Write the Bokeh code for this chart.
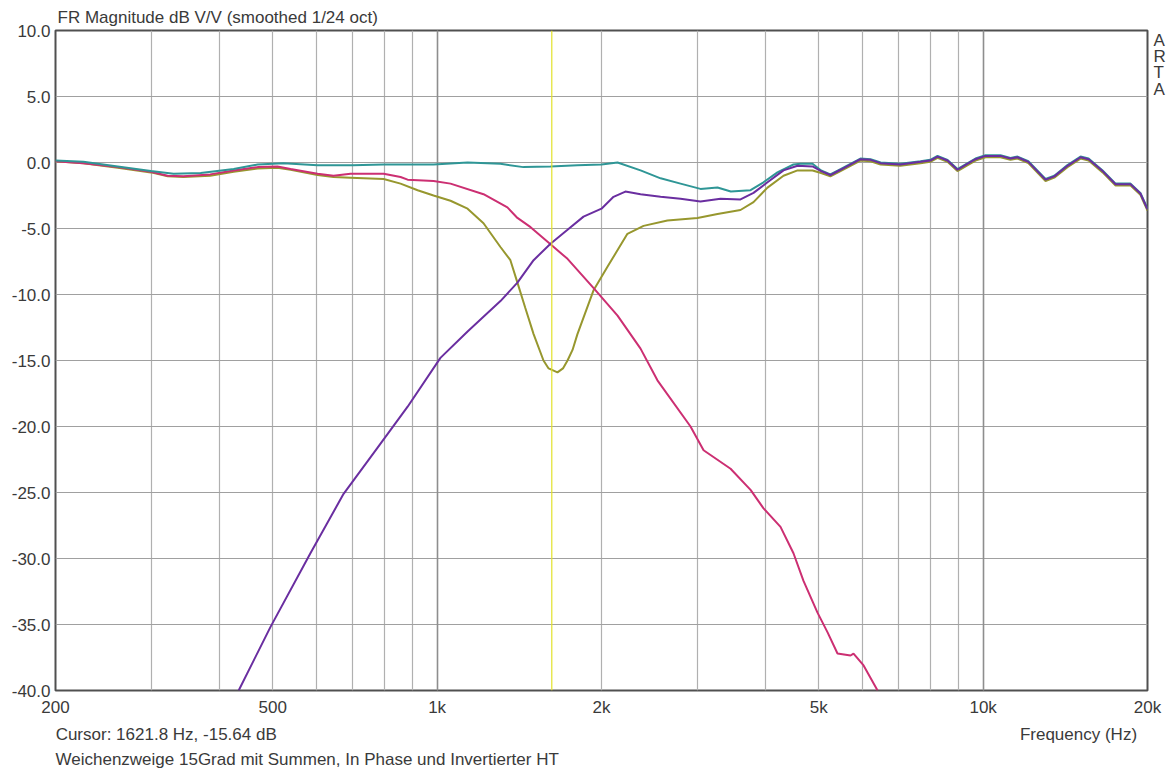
from bokeh.plotting import figure
from bokeh.models import (FixedTicker, Span, Grid, NumeralTickFormatter, LogAxis,
                          LinearAxis, Title)
from bokeh.embed import file_html
from bokeh.resources import INLINE

# ---------------- data ----------------
TITLE = "FR Magnitude dB V/V (smoothed 1/24 oct)"
CURSOR_TEXT = "Cursor: 1621.8 Hz, -15.64 dB"
NOTE_TEXT = "Weichenzweige 15Grad mit Summen, In Phase und Invertierter HT"
X_LABEL = "Frequency (Hz)"
BRAND = ["A", "R", "T", "A"]
CURSOR_F = 1621.8

X_TICKS = [200, 500, 1000, 2000, 5000, 10000, 20000]
X_TICK_LABELS = ["200", "500", "1k", "2k", "5k", "10k", "20k"]
X_GRID = [300, 400, 500, 600, 700, 800, 900, 1000, 2000, 3000, 4000, 5000,
          6000, 7000, 8000, 9000, 10000]
X_GRID_STRONG = [1000, 10000]
Y_TICKS = [10, 5, 0, -5, -10, -15, -20, -25, -30, -35, -40]

# positions (in data units) of the caption row under the tick labels
CAPTION_ROW_F = [319, 14950]
BRAND_Y = [9.25, 8.05, 6.85, 5.5]

# Sum "in phase" (teal)
teal_f = [200, 225, 260, 299, 329, 369, 424, 469, 523, 604, 700, 798, 900, 985,
          1137, 1306, 1439, 1613, 1807, 2000, 2140, 2358, 2566, 2791, 3036, 3262,
          3450, 3750, 3960, 4200, 4494, 4629, 4870,
          5050, 5250, 5480, 5960, 6220, 6490, 7050, 7680, 8000, 8250, 8605, 8974,
          9320, 9682, 10100, 10760, 11220, 11560, 12100, 13010, 13500, 14270,
          15080, 15600, 16550, 17480, 18620, 19410, 20000]
teal_db = [0.15, 0.05, -0.3, -0.65, -0.85, -0.8, -0.5, -0.15, -0.05, -0.2, -0.2, -0.15,
           -0.15, -0.15, 0.0, -0.1, -0.35, -0.3, -0.2, -0.15, 0.0, -0.6, -1.2, -1.6,
           -2.0, -1.9, -2.2, -2.1, -1.5, -0.75, -0.15, -0.1, -0.1,
           -0.6, -0.9, -0.5, 0.3, 0.25, 0.0, -0.1, 0.1, 0.2, 0.5, 0.2, -0.5,
           -0.1, 0.3, 0.55, 0.55, 0.35, 0.45, 0.1, -1.25, -1.0, -0.2,
           0.45, 0.3, -0.6, -1.6, -1.6, -2.3, -3.5]

# Tweeter, high pass (purple)
purple_f = [433, 495, 586, 674, 778, 883, 1014, 1137, 1306, 1403, 1502, 1613, 1733,
            1854, 2000, 2104, 2212, 2358, 2566, 2791, 3036, 3304, 3594, 3797, 4028,
            4309, 4572, 4870,
            5050, 5250, 5480, 5960, 6220, 6490, 7050, 7680, 8000, 8250, 8605, 8974,
            9320, 9682, 10100, 10760, 11220, 11560, 12100, 13010, 13500, 14270,
            15080, 15600, 16550, 17480, 18620, 19410, 20000]
purple_db = [-40.0, -35.2, -29.6, -25.1, -21.6, -18.5, -14.8, -12.8, -10.5, -9.1, -7.4,
             -6.15, -5.1, -4.1, -3.5, -2.6, -2.2, -2.4, -2.6, -2.75, -2.95, -2.75, -2.8,
             -2.3, -1.5, -0.6, -0.25, -0.3,
             -0.65, -0.95, -0.55, 0.25, 0.2, -0.05, -0.15, 0.05, 0.15, 0.45, 0.15, -0.55,
             -0.15, 0.25, 0.5, 0.5, 0.3, 0.4, 0.05, -1.3, -1.05, -0.25,
             0.4, 0.25, -0.65, -1.65, -1.65, -2.35, -3.55]

# Woofer, low pass (pink)
pink_f = [200, 225, 260, 299, 321, 343, 384, 424, 469, 510, 539, 604, 646, 694, 798,
          857, 883, 985, 1058, 1216, 1345, 1403, 1483, 1613, 1733, 1933, 2140, 2358,
          2532, 2911, 3076, 3447, 3750, 3961, 4255, 4494, 4688, 4973, 5189, 5411,
          5716, 5789, 6040, 6407]
pink_db = [0.1, -0.05, -0.35, -0.7, -1.0, -1.05, -0.9, -0.6, -0.35, -0.3, -0.5, -0.85,
           -1.0, -0.85, -0.85, -1.1, -1.3, -1.4, -1.6, -2.4, -3.4, -4.2, -4.9, -6.2,
           -7.3, -9.5, -11.6, -14.1, -16.5, -20.0, -21.8, -23.2, -24.8, -26.2, -27.6,
           -29.6, -31.7, -34.1, -35.6, -37.2, -37.35, -37.2, -38.1, -40.0]

# Sum with inverted tweeter (olive)
olive_f = [200, 225, 260, 299, 321, 343, 384, 424, 469, 510, 539, 604, 646, 694, 798,
           857, 921, 985, 1058, 1137, 1216, 1306, 1362, 1403, 1450, 1502, 1566, 1600,
           1661, 1700, 1733, 1770, 1807, 1933, 2051, 2231, 2388, 2641, 2998, 3262,
           3594, 3797, 4028, 4309, 4572, 4870,
           5050, 5250, 5480, 5960, 6220, 6490, 7050, 7680, 8000, 8250, 8605, 8974,
           9320, 9682, 10100, 10760, 11220, 11560, 12100, 13010, 13500, 14270,
           15080, 15600, 16550, 17480, 18620, 19410, 20000]
olive_db = [0.1, -0.05, -0.4, -0.75, -1.05, -1.1, -1.0, -0.7, -0.45, -0.4, -0.55, -0.95,
            -1.1, -1.15, -1.25, -1.6, -2.1, -2.5, -2.9, -3.5, -4.6, -6.4, -7.4, -9.1,
            -11.0, -13.0, -15.0, -15.6, -15.9, -15.6, -15.0, -14.2, -13.0, -9.7, -7.9,
            -5.4, -4.8, -4.4, -4.2, -3.9, -3.6, -3.0, -1.9, -1.0, -0.6, -0.6,
            -0.8, -1.05, -0.65, 0.15, 0.1, -0.15, -0.25, -0.05, 0.05, 0.35, 0.05, -0.65,
            -0.25, 0.15, 0.4, 0.4, 0.2, 0.3, -0.05, -1.4, -1.15, -0.35,
            0.3, 0.15, -0.75, -1.75, -1.75, -2.45, -3.65]

# ---------------- styling ----------------
FONT = "Liberation Sans"
TXT = "#3a3a3a"
FS = "17px"

p = figure(width=1174, height=771, x_axis_type="log",
           x_range=(200, 20000), y_range=(-40, 10),
           output_backend="svg", toolbar_location=None,
           min_border_left=55, min_border_right=27,
           min_border_top=30, min_border_bottom=81)
p.title.text = TITLE
p.title.align = "left"
p.title.offset = 2
p.title.standoff = 7
p.title.text_font = FONT
p.title.text_font_size = FS
p.title.text_font_style = "normal"
p.title.text_color = TXT
p.background_fill_color = "white"
p.border_fill_color = "white"
p.outline_line_color = "#505050"
p.outline_line_width = 2


def style_axis(ax, standoff):
    ax.axis_line_color = None
    ax.major_tick_line_color = None
    ax.minor_tick_line_color = None
    ax.major_tick_in = 0
    ax.major_tick_out = 0
    ax.major_label_text_font = FONT
    ax.major_label_text_font_size = FS
    ax.major_label_text_color = TXT
    ax.major_label_standoff = standoff


style_axis(p.xaxis[0], 7)
style_axis(p.yaxis[0], 5)
p.xaxis.ticker = FixedTicker(ticks=X_TICKS)
p.xaxis.major_label_overrides = dict(zip(X_TICKS, X_TICK_LABELS))
p.yaxis.ticker = FixedTicker(ticks=Y_TICKS)
p.yaxis.formatter = NumeralTickFormatter(format="0.0")

# caption row: cursor readout (left) and axis title (right)
cap = LogAxis(ticker=FixedTicker(ticks=CAPTION_ROW_F),
              major_label_overrides=dict(zip(CAPTION_ROW_F, [CURSOR_TEXT, X_LABEL])))
style_axis(cap, 5)
p.add_layout(cap, "below")

note = Title(text=NOTE_TEXT, align="left", offset=0, standoff=3,
             text_font=FONT, text_font_size=FS, text_font_style="normal",
             text_color=TXT)
p.add_layout(note, "below")

# stacked "ARTA" mark on the right
brand = LinearAxis(ticker=FixedTicker(ticks=BRAND_Y),
                   major_label_overrides=dict(zip(BRAND_Y, BRAND)))
style_axis(brand, 6)
p.add_layout(brand, "right")

p.xgrid.ticker = FixedTicker(ticks=X_GRID)
p.xgrid.grid_line_color = "#b0b0b0"
p.xgrid.grid_line_width = 1.2
p.ygrid.ticker = FixedTicker(ticks=Y_TICKS)
p.ygrid.grid_line_color = "#a0a0a0"
p.ygrid.grid_line_width = 1.2
p.add_layout(Grid(dimension=0, ticker=FixedTicker(ticks=X_GRID_STRONG),
                  grid_line_color="#8e8e8e", grid_line_width=1.5))

p.add_layout(Span(location=CURSOR_F, dimension="height",
                  line_color="#e2e22a", line_width=1.2))

p.line(olive_f, olive_db, line_color="#97972e", line_width=2)
p.line(pink_f, pink_db, line_color="#cc2f72", line_width=2)
p.line(teal_f, teal_db, line_color="#2f9696", line_width=2)
p.line(purple_f, purple_db, line_color="#6a2ea0", line_width=2)

open("out.html", "w").write(file_html(p, INLINE))
